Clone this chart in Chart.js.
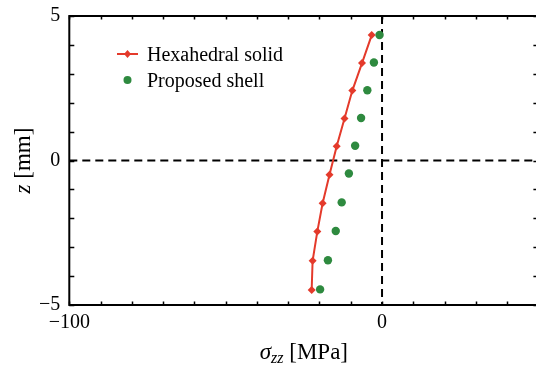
<!DOCTYPE html>
<html>
<head>
<meta charset="utf-8">
<script src="https://cdn.jsdelivr.net/npm/chart.js@4.4.1/dist/chart.umd.min.js"></script>
<style>
  html, body { margin: 0; padding: 0; background: #fff; overflow: hidden; }
  canvas { display: block; }
</style>
</head>
<body>
<canvas id="stressChart" width="560" height="366"></canvas>
<script>
// through-thickness stress profile, z in mm, sigma_zz in MPa
const solidZ = [4.34, 3.37, 2.42, 1.45, 0.49, -0.49, -1.48, -2.46, -3.47, -4.48];
const solidStress = [-3.3, -6.4, -9.5, -12.0, -14.5, -16.8, -19.0, -20.7, -22.2, -22.5];
const shellZ = [4.34, 3.39, 2.43, 1.47, 0.51, -0.45, -1.45, -2.44, -3.45, -4.46];
const shellStress = [-0.8, -2.6, -4.7, -6.7, -8.6, -10.6, -12.9, -14.8, -17.3, -19.8];

const xLabelValues = [-100, 0];
const yLabelValues = [-5, 0, 5];

const RED = '#e43a2b';
const GREEN = '#2e8a3f';
const SERIF = "'Liberation Serif', 'Times New Roman', serif";

function fmt(v) {
    return v < 0 ? '\u2212' + Math.abs(v) : String(v);
}

const frameAndExtras = {
    id: 'frameAndExtras',
    beforeDatasetsDraw(chart) {
        const { ctx, chartArea: a, scales: { x, y } } = chart;
        const x0 = x.getPixelForValue(0);
        const y0 = y.getPixelForValue(0);
        ctx.save();
        ctx.strokeStyle = '#000';
        ctx.lineWidth = 2;
        ctx.setLineDash([8, 5]);
        ctx.beginPath();
        ctx.moveTo(a.left, y0);
        ctx.lineTo(a.right, y0);
        ctx.moveTo(x0, a.top);
        ctx.lineTo(x0, a.bottom);
        ctx.stroke();
        ctx.restore();
    },
    afterDatasetsDraw(chart) {
        const { ctx, chartArea: a, scales: { x, y } } = chart;
        ctx.save();
        ctx.strokeStyle = '#000';

        // inward ticks on all four sides
        ctx.lineWidth = 1.5;
        ctx.beginPath();
        for (let v = -100; v <= 50; v += 10) {
            const px = Math.round(x.getPixelForValue(v)) + 0.5;
            ctx.moveTo(px, a.bottom); ctx.lineTo(px, a.bottom - 3.5);
            ctx.moveTo(px, a.top); ctx.lineTo(px, a.top + 3.5);
        }
        for (let v = -5; v <= 5; v += 1) {
            const py = Math.round(y.getPixelForValue(v)) + 0.5;
            ctx.moveTo(a.left, py); ctx.lineTo(a.left + 5, py);
            ctx.moveTo(a.right, py); ctx.lineTo(a.right - 5, py);
        }
        ctx.stroke();

        // frame
        ctx.lineWidth = 2;
        ctx.strokeRect(a.left, a.top, a.right - a.left, a.bottom - a.top);

        // legend
        const lx = 127.5;
        ctx.strokeStyle = RED;
        ctx.lineWidth = 2;
        ctx.beginPath();
        ctx.moveTo(117, 54);
        ctx.lineTo(138, 54);
        ctx.stroke();
        ctx.fillStyle = RED;
        ctx.beginPath();
        ctx.moveTo(lx, 50); ctx.lineTo(lx + 3.5, 54); ctx.lineTo(lx, 58); ctx.lineTo(lx - 3.5, 54);
        ctx.closePath();
        ctx.fill();
        ctx.fillStyle = GREEN;
        ctx.beginPath();
        ctx.arc(lx, 80, 4, 0, Math.PI * 2);
        ctx.fill();

        ctx.fillStyle = '#000';
        ctx.font = '20px ' + SERIF;
        ctx.textBaseline = 'alphabetic';
        ctx.textAlign = 'left';
        ctx.fillText(chart.data.datasets[0].label, 147, 61);
        ctx.fillText(chart.data.datasets[1].label, 147, 87);

        // x axis title: sigma_zz [MPa]
        const itFont = 'italic 23px ' + SERIF;
        const subFont = 'italic 16px ' + SERIF;
        const rmFont = '23px ' + SERIF;
        ctx.font = itFont; const wSig = ctx.measureText('\u03c3').width;
        ctx.font = subFont; const wSub = ctx.measureText('zz').width;
        ctx.font = rmFont; const wRest = ctx.measureText(' [MPa]').width;
        let tx = (a.left + a.right) / 2 - (wSig + wSub + wRest) / 2;
        const ty = 359;
        ctx.font = itFont; ctx.fillText('\u03c3', tx, ty); tx += wSig;
        ctx.font = subFont; ctx.fillText('zz', tx, ty + 4); tx += wSub;
        ctx.font = rmFont; ctx.fillText(' [MPa]', tx, ty);

        // y axis title: z [mm], rotated
        ctx.translate(30, (a.top + a.bottom) / 2);
        ctx.rotate(-Math.PI / 2);
        ctx.font = itFont; const wz = ctx.measureText('z').width;
        ctx.font = rmFont; const wmm = ctx.measureText(' [mm]').width;
        let ry = -(wz + wmm) / 2;
        ctx.font = itFont; ctx.fillText('z', ry, 0); ry += wz;
        ctx.font = rmFont; ctx.fillText(' [mm]', ry, 0);
        ctx.restore();
    }
};

const ctx = document.getElementById('stressChart').getContext('2d');
new Chart(ctx, {
    type: 'scatter',
    data: {
        datasets: [{
            label: 'Hexahedral solid',
            data: solidStress.map((s, i) => ({ x: s, y: solidZ[i] })),
            showLine: true,
            borderColor: RED,
            backgroundColor: RED,
            borderWidth: 2,
            tension: 0,
            pointStyle: 'rectRot',
            pointRadius: 4,
            pointBorderWidth: 0
        }, {
            label: 'Proposed shell',
            data: shellStress.map((s, i) => ({ x: s, y: shellZ[i] })),
            showLine: false,
            borderColor: GREEN,
            backgroundColor: GREEN,
            pointStyle: 'circle',
            pointRadius: 4.2,
            pointBorderWidth: 0
        }]
    },
    options: {
        responsive: false,
        animation: false,
        layout: { padding: { top: 16, right: 21.6, left: 0, bottom: 0 } },
        plugins: {
            legend: { display: false },
            tooltip: { enabled: false }
        },
        scales: {
            x: {
                type: 'linear',
                min: -100,
                max: 50,
                grid: { display: false, drawTicks: false },
                border: { display: false },
                afterFit(scale) {
                    scale.height = 61;
                    scale.paddingLeft = 0;
                    scale.paddingRight = 0;
                },
                ticks: {
                    stepSize: 10,
                    autoSkip: false,
                    maxRotation: 0,
                    padding: 6,
                    color: '#000',
                    font: { family: SERIF, size: 20 },
                    callback: (v) => xLabelValues.includes(v) ? fmt(v) : ''
                }
            },
            y: {
                type: 'linear',
                min: -5,
                max: 5,
                grid: { display: false, drawTicks: false },
                border: { display: false },
                afterFit(scale) {
                    scale.width = 69.3;
                    scale.paddingTop = 0;
                    scale.paddingBottom = 0;
                },
                ticks: {
                    stepSize: 1,
                    autoSkip: false,
                    padding: 9,
                    color: '#000',
                    font: { family: SERIF, size: 20 },
                    callback: (v) => yLabelValues.includes(v) ? fmt(v) : ''
                }
            }
        }
    },
    plugins: [frameAndExtras]
});
</script>
</body>
</html>
